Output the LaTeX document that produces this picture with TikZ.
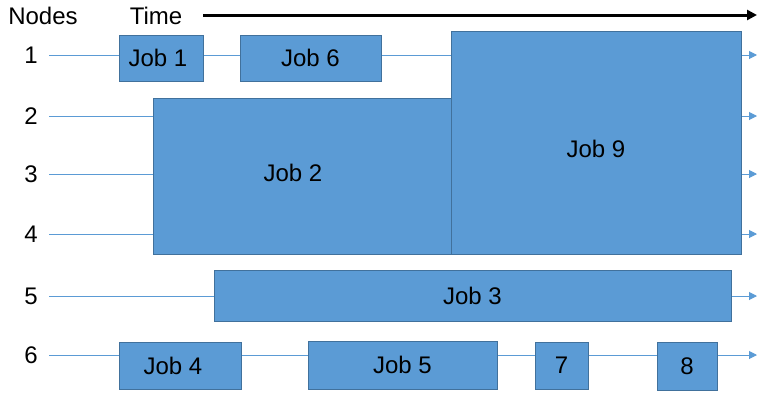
\documentclass[tikz,border=0pt]{standalone}
\usepackage{fontspec}
\setmainfont{Liberation Sans}
\usetikzlibrary{arrows.meta,positioning}
\definecolor{jobfill}{HTML}{5B9BD5}
\definecolor{jobedge}{HTML}{41719C}

\begin{document}
\begin{tikzpicture}[x=1pt,y=-1pt]
	\tikzstyle{job}=[rectangle,draw=jobedge,fill=jobfill,line width=1pt,inner sep=0pt,font=\fontsize{24}{28}\selectfont]
	\tikzstyle{lane}=[draw=jobfill,line width=1pt,-{Triangle[length=8pt,width=8pt]}]
	\tikzstyle{lbl}=[inner sep=0pt,font=\fontsize{24}{28}\selectfont]

	\useasboundingbox (0,0) rectangle (772,400);

	\node [lbl] (nodes) at (43,16)		{Nodes};
	\node [lbl] (time) at (156,16)		{Time};
	\coordinate (t0) at (203,15);
	\coordinate (t1) at (757,15);
	\draw [line width=3pt,-{Triangle[length=10pt,width=10pt]}] (t0) -- (t1);

	\foreach \n/\y in {1/55,2/116,3/174,4/234,5/296,6/355} {
		\node [lbl] (n\n) at (31,\y) {\n};
		\coordinate (s\n) at (49,\y);
		\coordinate (e\n) at (757,\y);
		\draw [lane] (s\n) -- (e\n);
	}

	\node [job,minimum width=84pt,minimum height=46pt] (j1) at (161,58)
		{\hspace*{-6pt}Job 1};
	\node [job,minimum width=141pt,minimum height=46pt] (j6) at (310.5,58)	{Job 6};
	\node [job,minimum width=298pt,minimum height=156pt,
		label={[lbl,xshift=-9pt,yshift=3pt]center:Job 2}] (j2) at (302,176) {};
	\node [job,minimum width=290pt,minimum height=223pt,
		label={[lbl,yshift=-6pt]center:Job 9}] (j9) at (596,142.5) {};
	\node [job,minimum width=517pt,minimum height=51pt] (j3) at (472.5,295.5)	{Job 3};
	\node [job,minimum width=122pt,minimum height=47pt] (j4) at (180,365.5)
		{\hspace*{-14pt}Job 4};
	\node [job,minimum width=189pt,minimum height=48pt] (j5) at (402.5,365)	{Job 5};
	\node [job,minimum width=53pt,minimum height=47pt] (j7) at (561.5,365.5)	{7};
	\node [job,minimum width=60pt,minimum height=48pt] (j8) at (687,366)		{8};
\end{tikzpicture}
\end{document}
